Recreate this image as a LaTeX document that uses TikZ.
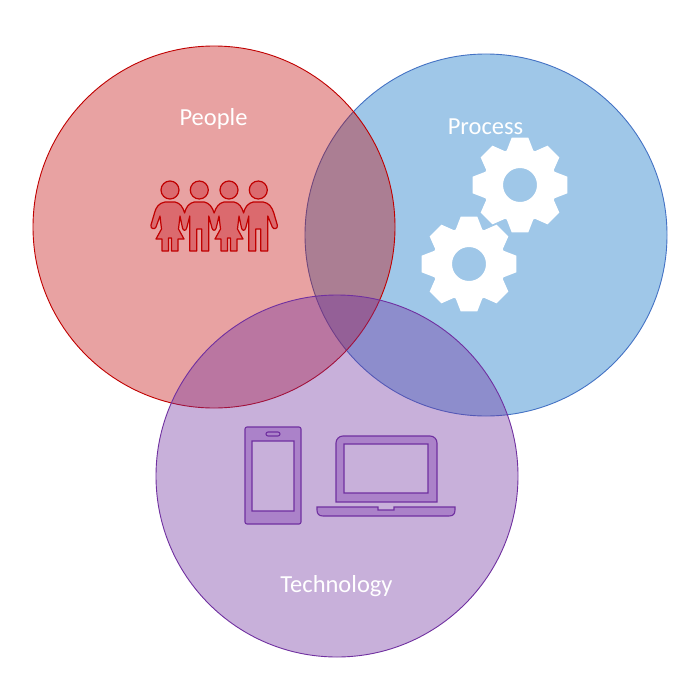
\documentclass[tikz,border=0pt]{standalone}
\usepackage{fontspec}
\setmainfont{Carlito}
\definecolor{peoplered}{HTML}{C00000}
\definecolor{processblue}{HTML}{5FA3D9}
\definecolor{processline}{HTML}{4472C4}
\definecolor{techpurple}{HTML}{7030A0}
\definecolor{techicon}{HTML}{AB82C9}
\definecolor{peopleicon}{HTML}{DB6A6E}
\newcommand{\gearpath}{
  (-21:37) \foreach \a in {0,45,...,315} {
    -- (\a-10:48) -- (\a+10:48) -- (\a+21:37) -- (\a+24:37)
  } -- cycle (0,0) circle [radius=17]
}
\tikzset{
  label text/.style={text=white,font=\fontsize{24.5}{28}\selectfont,inner sep=0pt},
  person/.style={draw=peoplered,fill=peopleicon,line width=1.2pt,line join=round},
  device/.style={draw=techpurple,fill=techicon,line width=1.1pt,even odd rule},
  ring/.style={line width=.9pt},
}
\begin{document}
\begin{tikzpicture}[x=1pt,y=-1pt]
  \useasboundingbox [fill=white] (0,0) rectangle (698,690);

  % the three circles
  \fill [processblue,fill opacity=.6] (486,235) circle [radius=181];
  \draw [ring,processline] (486,235) circle [radius=181];
  \fill [peoplered,fill opacity=.365] (214,227) circle [radius=181];
  \draw [ring,peoplered] (214,227) circle [radius=181];
  \fill [techpurple,fill opacity=.38] (337,476) circle [radius=181];
  \draw [ring,techpurple] (337,476) circle [radius=181];

  \node [label text] (people) at (213.5,119) {People};
  \node [label text] (process) at (485.5,127) {Process};
  \node [label text] (technology) at (336.5,586) {Technology};

  % people
  \foreach \x in {170,199.3,229,258.3} {
    \draw [person] (\x,190) circle [radius=9];
  }
  \draw [person] (165,202) -- (175,202) .. controls (180,203) and (183,207) .. (184.6,213)
    .. controls (186,207) and (189,203) .. (194.3,202) -- (204.3,202)
    .. controls (209,203) and (212.5,207) .. (214.1,213)
    .. controls (216,207) and (219,203) .. (224,202) -- (234,202)
    .. controls (239,203) and (242,207) .. (243.6,213)
    .. controls (245,207) and (248,203) .. (253.3,202) -- (263.3,202)
    .. controls (269,203) and (272,207) .. (273.8,213) -- (277.3,225)
    .. controls (278.3,229) and (273.3,230) .. (272.3,227) -- (267.8,216)
    -- (267.8,251) -- (260.8,251) -- (260.8,229) -- (255.8,229) -- (255.8,251)
    -- (248.8,251) -- (248.8,216) -- (245.7,228)
    .. controls (245,231) and (242.2,231) .. (241.5,228) -- (239,216)
    -- (237.5,229) -- (243,239) -- (237,239) -- (237,251) -- (230.5,251)
    -- (230.5,238) -- (227.5,238) -- (227.5,251) -- (221,251) -- (221,239)
    -- (215,239) -- (220.5,229) -- (219,216) -- (216.2,228)
    .. controls (215.5,231) and (212.7,231) .. (212,228) -- (208.8,216)
    -- (208.8,251) -- (201.8,251) -- (201.8,229) -- (196.8,229) -- (196.8,251)
    -- (189.8,251) -- (189.8,216) -- (186.7,228)
    .. controls (186,231) and (183.2,231) .. (182.5,228) -- (180,216)
    -- (178.5,229) -- (184,239) -- (178,239) -- (178,251) -- (171.5,251)
    -- (171.5,238) -- (168.5,238) -- (168.5,251) -- (162,251) -- (162,239)
    -- (156,239) -- (161.5,229) -- (160,216) -- (156,227)
    .. controls (155,230) and (150,229) .. (151,225) -- (154.5,213)
    .. controls (156,207) and (159,203) .. (165,202) -- cycle;

  % gears
  \begin{scope}[shift={(520,185)}]
    \fill [white,even odd rule] \gearpath;
  \end{scope}
  \begin{scope}[shift={(469,264)}]
    \fill [white,even odd rule] \gearpath;
  \end{scope}

  % phone
  \draw [device] [rounded corners=2pt] (245,427) rectangle (301,524)
    [sharp corners] (252,441) rectangle (294,511);
  \draw [device,rounded corners=2pt,fill=none] (266,432) rectangle (280,436);

  % laptop
  \draw [device] (336,502) [rounded corners=7pt] -- (336,436) -- (437,436)
    [sharp corners] -- (437,502) -- cycle
    (344,444) rectangle (428,493);
  \draw [device] (317,507) -- (378,507) -- (378,510) -- (394,510) -- (394,507) -- (455,507)
    -- (455,510) .. controls (455,514) and (453,516) .. (449,516) -- (323,516)
    .. controls (319,516) and (317,514) .. (317,510) -- cycle;
\end{tikzpicture}
\end{document}
